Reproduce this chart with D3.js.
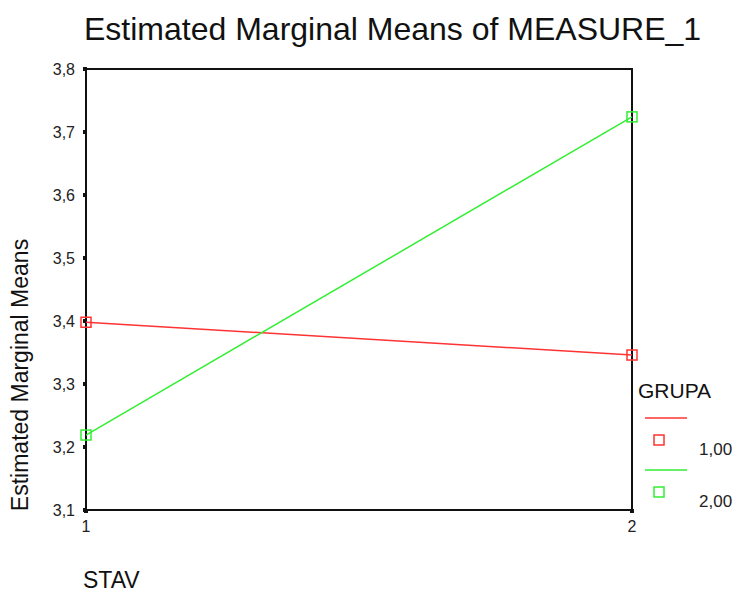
<!DOCTYPE html>
<html><head><meta charset="utf-8">
<script src="https://cdn.jsdelivr.net/npm/d3@7"></script>
<style>body{margin:0;background:#fff}svg{display:block;font-family:"Liberation Sans",Arial,sans-serif}</style>
</head><body><svg id="c" width="735" height="592"></svg>
<script>
const categories = [1, 2];
const categoryLabels = ["1", "2"];
const groups = ["1,00", "2,00"];
const group1 = [3.398, 3.346];
const group2 = [3.219, 3.724];
const yTicks = [3.1, 3.2, 3.3, 3.4, 3.5, 3.6, 3.7, 3.8];
const yTickLabels = ["3,1", "3,2", "3,3", "3,4", "3,5", "3,6", "3,7", "3,8"];
const colors = ["#ff3333", "#33ee33"];

const svg = d3.select("#c");
const L = 86, R = 632, T = 69, B = 510;
const x = d3.scaleLinear().domain([1, 2]).range([L, R]);
const y = d3.scaleLinear().domain([3.1, 3.8]).range([B, T]);

svg.append("text").attr("x", 84).attr("y", 40).attr("font-size", 32).attr("fill", "#111")
  .text("Estimated Marginal Means of MEASURE_1");

// frame
svg.append("rect").attr("x", L).attr("y", T).attr("width", R - L).attr("height", B - T)
  .attr("fill", "none").attr("stroke", "#111").attr("stroke-width", 2);

// y ticks
yTicks.forEach((t, i) => {
  svg.append("rect").attr("x", L - 3).attr("y", y(t) - 2).attr("width", 4).attr("height", 4).attr("fill", "#111");
  svg.append("text").attr("x", L - 11).attr("y", y(t) + 6).attr("text-anchor", "end")
    .attr("font-size", 16).attr("fill", "#222").text(yTickLabels[i]);
});
// x ticks
categories.forEach((c, i) => {
  svg.append("rect").attr("x", x(c) - 2).attr("y", B - 1).attr("width", 4).attr("height", 4).attr("fill", "#111");
  svg.append("text").attr("x", x(c)).attr("y", B + 22).attr("text-anchor", "middle")
    .attr("font-size", 16).attr("fill", "#222").text(categoryLabels[i]);
});

svg.append("text").attr("x", 83).attr("y", 588).attr("font-size", 23).attr("fill", "#111").text("STAV");
svg.append("text").attr("transform", "translate(28,375) rotate(-90)")
  .attr("text-anchor", "middle").attr("font-size", 23).attr("fill", "#111").text("Estimated Marginal Means");

const series = [group1, group2];
const line = d3.line().x((d, i) => x(categories[i])).y(d => y(d));
series.forEach((s, k) => {
  svg.append("path").attr("d", line(s)).attr("fill", "none").attr("stroke", colors[k]).attr("stroke-width", 1.5);
  s.forEach((v, i) => {
    svg.append("rect").attr("x", x(categories[i]) - 5).attr("y", y(v) - 5).attr("width", 10).attr("height", 10)
      .attr("fill", "none").attr("stroke", colors[k]).attr("stroke-width", 1.5);
  });
});

// legend
svg.append("text").attr("x", 638).attr("y", 398).attr("font-size", 21).attr("fill", "#111").text("GRUPA");
groups.forEach((g, k) => {
  const ly = 418 + k * 52;
  svg.append("line").attr("x1", 645).attr("x2", 687).attr("y1", ly).attr("y2", ly)
    .attr("stroke", colors[k]).attr("stroke-width", 1.5);
  svg.append("rect").attr("x", 654).attr("y", ly + 17).attr("width", 10).attr("height", 10)
    .attr("fill", "none").attr("stroke", colors[k]).attr("stroke-width", 1.5);
  svg.append("text").attr("x", 699).attr("y", ly + 37).attr("font-size", 17).attr("fill", "#222").text(g);
});
</script></body></html>
